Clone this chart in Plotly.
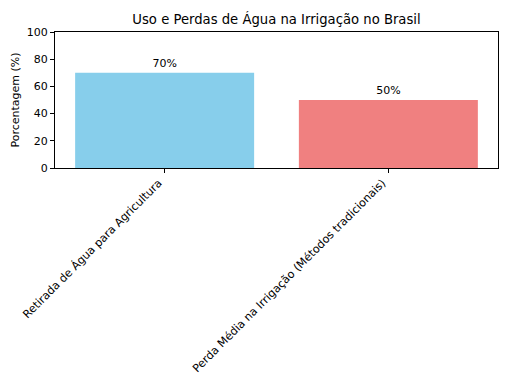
import plotly.graph_objects as go

categories = ["Retirada de Água para Agricultura", "Perda Média na Irrigação (Métodos tradicionais)"]
values = [70, 50]
labels = ["70%", "50%"]
colors = ["#87CEEB", "#F08080"]

fig = go.Figure(go.Bar(
    x=[0, 1], y=values, width=0.8,
    marker=dict(color=colors, line=dict(width=0)),
    text=labels, textposition="outside", cliponaxis=False,
    textfont=dict(size=11, color="black", family="DejaVu Sans"),
))

fig.update_layout(
    width=515, height=376,
    margin=dict(l=55, r=17, t=32, b=208, autoexpand=False),
    paper_bgcolor="white", plot_bgcolor="white",
    font=dict(family="DejaVu Sans", size=11, color="black"),
    title=dict(text="Uso e Perdas de Água na Irrigação no Brasil", xref="paper", x=0.5, xanchor="center",
               y=1 - 19/376, yanchor="middle", font=dict(size=13.2, color="black")),
    showlegend=False,
)
fig.update_xaxes(
    automargin=False,
    range=[-0.49, 1.49], tickmode="array", tickvals=[0, 1], ticktext=categories,
    tickangle=-45, ticks="outside", ticklen=4, tickcolor="black",
    ticklabelshift=-6, ticklabelstandoff=-1,
    showline=True, linecolor="black", linewidth=1, mirror=True,
    showgrid=False, zeroline=False, tickfont=dict(size=11.2),
)
fig.update_yaxes(
    automargin=False,
    range=[0, 100], tickvals=[0, 20, 40, 60, 80, 100],
    ticks="outside", ticklen=4, tickcolor="black",
    showline=True, linecolor="black", linewidth=1, mirror=True,
    showgrid=False, zeroline=False, tickfont=dict(size=11),
    title=dict(text="Porcentagem (%)", font=dict(size=11), standoff=4),
)

fig.write_html("out.html", config={"displayModeBar": False},
               post_script="document.body.style.margin='0';document.body.style.overflow='hidden';")
